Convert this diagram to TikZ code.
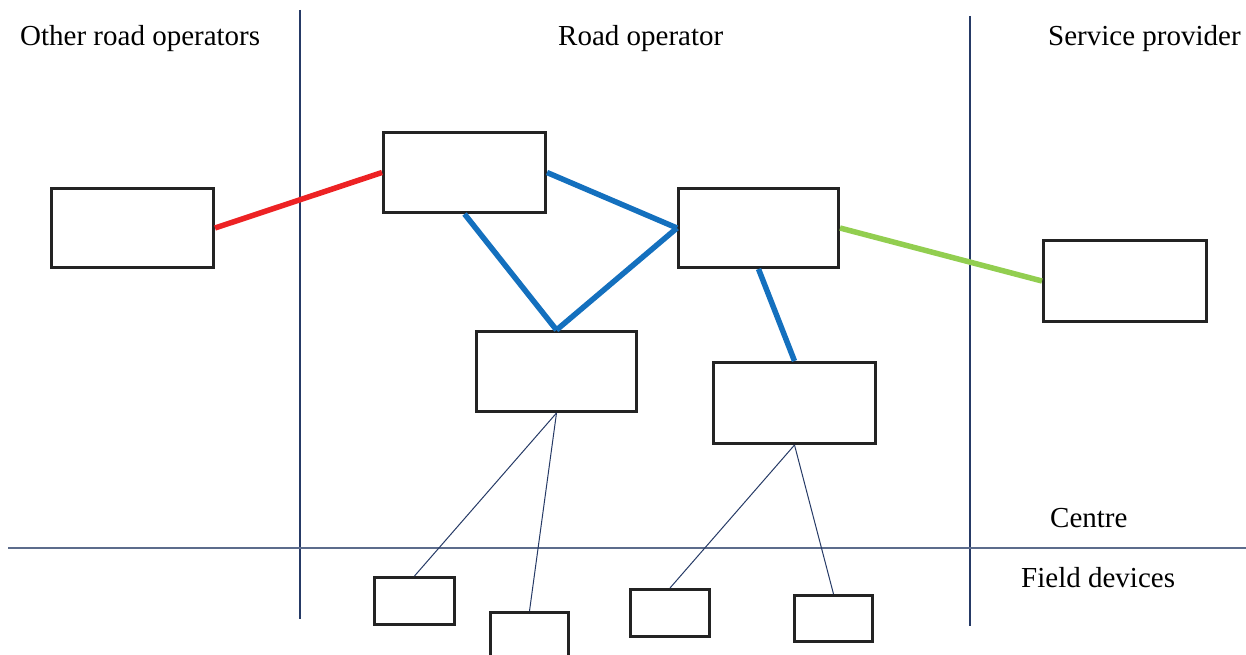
\documentclass[tikz,border=0pt]{standalone}
\usepackage{fontspec}
\setmainfont{Liberation Serif}
\definecolor{boxc}{RGB}{35,35,35}
\definecolor{vline}{RGB}{38,58,102}
\definecolor{hline}{RGB}{92,108,140}
\definecolor{redl}{RGB}{237,34,36}
\definecolor{bluel}{RGB}{20,112,190}
\definecolor{greenl}{RGB}{146,206,80}
\begin{document}
\begin{tikzpicture}[x=1pt,y=-1pt,
  box/.style={draw=boxc,line width=3pt,inner sep=0pt,rectangle},
  vdiv/.style={draw=vline,line width=1.3pt},
  hdiv/.style={draw=hline,line width=1.8pt},
  thinl/.style={draw=vline,line width=1pt},
  link/.style={line width=5.5pt},
  lbl/.style={anchor=base west,inner sep=0pt,font=\fontsize{29}{34}\selectfont}]
\useasboundingbox (0,0) rectangle (1246,655);
% dividers
\coordinate (v1t) at (300,10);
\coordinate (v1b) at (300,619);
\coordinate (v2t) at (970,16);
\coordinate (v2b) at (970,626);
\coordinate (hl) at (8,548);
\coordinate (hr) at (1246,548);
\draw[vdiv] (v1t) -- (v1b);
\draw[vdiv] (v2t) -- (v2b);
\draw[hdiv] (hl) -- (hr);
% labels
\node[lbl] (t1) at (20,45.5) {Other road operators};
\node[lbl] (t2) at (558,45.5) {Road operator};
\node[lbl] (t3) at (1048,46) {Service provider};
\node[lbl] (t4) at (1050,527) {Centre};
\node[lbl] (t5) at (1021,587) {Field devices};
% boxes
\node[box,minimum width=162pt,minimum height=79pt] (L) at (132.5,228) {};
\node[box,minimum width=162pt,minimum height=80pt] (A) at (464.5,172.5) {};
\node[box,minimum width=160pt,minimum height=79pt] (B) at (758.5,228) {};
\node[box,minimum width=160pt,minimum height=80pt] (C) at (556.5,371.5) {};
\node[box,minimum width=162pt,minimum height=81pt] (D) at (794.5,403) {};
\node[box,minimum width=163pt,minimum height=81pt] (S) at (1125,281) {};
\node[box,minimum width=80pt,minimum height=47pt] (F1) at (414.5,601) {};
\node[box,minimum width=78pt,minimum height=47pt] (F2) at (529.5,636) {};
\node[box,minimum width=79pt,minimum height=47pt] (F3) at (670,613) {};
\node[box,minimum width=78pt,minimum height=46pt] (F4) at (833.5,618.5) {};
% colored links
\draw[link,redl] (L.east) -- (A.west);
\draw[link,bluel] (A.east) -- (B.west);
\draw[link,bluel] (A.south) -- (C.north);
\draw[link,bluel,line join=miter] (C.north) -- (B.west);
\draw[link,bluel] (B.south) -- (D.north);
\draw[link,greenl] (B.east) -- (S.west);
% thin links
\draw[thinl] (C.south) -- (F1.north);
\draw[thinl] (C.south) -- (F2.north);
\draw[thinl] (D.south) -- (F3.north);
\draw[thinl] (D.south) -- (F4.north);
\end{tikzpicture}
\end{document}
